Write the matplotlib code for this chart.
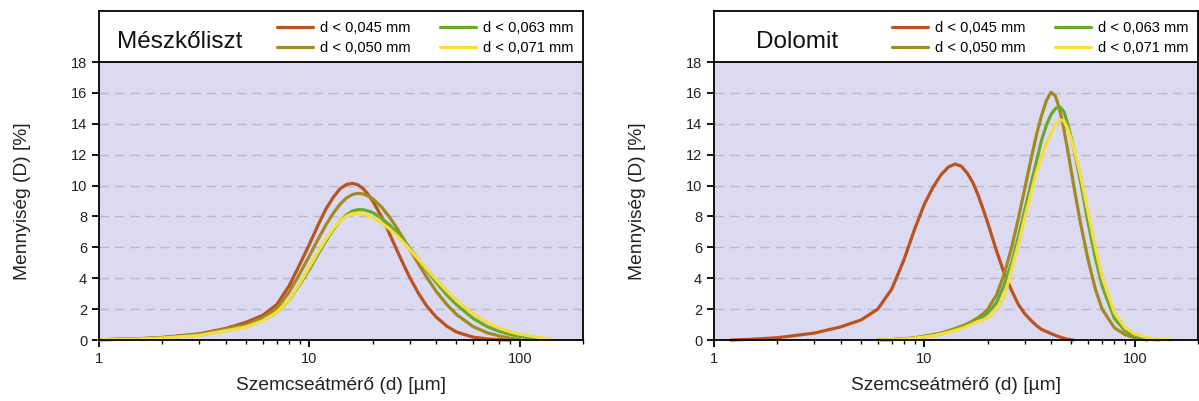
import numpy as np
import matplotlib.pyplot as plt
from matplotlib.ticker import FixedLocator, FixedFormatter, LogLocator, NullFormatter

plt.rcParams['font.family'] = ['Liberation Sans', 'DejaVu Sans']

nan = np.nan

# Mészkőliszt
x_msz = [1, 1.5, 2, 3, 4, 5, 6, 7, 8, 9, 10, 11, 12, 13, 14, 15, 16, 17, 18, 19, 20,
         22, 24, 26, 28, 30, 33, 36, 40, 45, 50, 60, 70, 80, 90, 100, 120, 140]
msz_045 = [0.02, 0.08, 0.17, 0.4, 0.75, 1.15, 1.6, 2.3, 3.5, 4.9, 6.2, 7.45, 8.5, 9.25, 9.8,
           10.07, 10.15, 10.05, 9.8, 9.44, 9.0, 8.0, 6.9, 5.85, 4.9, 4.05, 3.03, 2.23, 1.5,
           0.9, 0.52, 0.19, 0.07, 0.02, 0.0, nan, nan, nan]
msz_050 = [0.02, 0.07, 0.15, 0.37, 0.7, 1.0, 1.45, 2.05, 3.1, 4.3, 5.45, 6.53, 7.47, 8.22, 8.8,
           9.2, 9.42, 9.5, 9.46, 9.33, 9.15, 8.62, 7.97, 7.27, 6.56, 5.87, 4.93, 4.1, 3.17,
           2.3, 1.66, 0.87, 0.47, 0.26, 0.12, 0.03, nan, nan]
msz_063 = [0.02, 0.06, 0.14, 0.32, 0.62, 0.88, 1.3, 1.8, 2.6, 3.6, 4.58, 5.56, 6.43, 7.15, 7.71,
           8.1, 8.35, 8.44, 8.44, 8.36, 8.25, 7.9, 7.46, 6.97, 6.46, 5.94, 5.21, 4.53, 3.74,
           2.92, 2.29, 1.4, 0.87, 0.56, 0.36, 0.24, 0.05, nan]
msz_071 = [0.02, 0.06, 0.13, 0.3, 0.6, 0.85, 1.25, 1.8, 2.62, 3.68, 4.74, 5.71, 6.55, 7.22, 7.71,
           8.02, 8.18, 8.2, 8.15, 8.06, 7.93, 7.6, 7.2, 6.77, 6.32, 5.87, 5.23, 4.63, 3.92,
           3.18, 2.57, 1.7, 1.14, 0.78, 0.54, 0.38, 0.2, 0.05]

# Dolomit
x_dol = [1.2, 1.5, 2, 3, 4, 5, 6, 7, 8, 9, 10, 11, 12, 13, 14, 15, 16, 17, 18, 19, 20,
         22, 24, 26, 28, 30, 32, 34, 36, 38, 40, 42, 44, 46, 48, 51, 55, 60, 65, 70,
         80, 90, 100, 115, 130, 150]
dol_045 = [0.0, 0.05, 0.15, 0.45, 0.85, 1.3, 2.0, 3.3, 5.2, 7.2, 8.8, 9.9, 10.7, 11.2, 11.4,
           11.25, 10.8, 10.2, 9.4, 8.5, 7.6, 5.8, 4.3, 3.2, 2.3, 1.7, 1.3, 0.95, 0.7, 0.55,
           0.42, 0.3, 0.2, 0.12, 0.05, 0.0, nan, nan, nan, nan, nan, nan, nan, nan, nan, nan]
dol_050 = [nan, nan, nan, nan, nan, nan, 0.0, 0.03, 0.08, 0.15, 0.25, 0.35, 0.45, 0.6, 0.75,
           0.9, 1.05, 1.25, 1.45, 1.7, 2.0, 2.9, 4.3, 6.0, 7.9, 9.8, 11.6, 13.2, 14.5, 15.5,
           16.05, 15.8, 14.9, 13.7, 12.3, 10.2, 7.7, 5.2, 3.3, 2.0, 0.8, 0.35, 0.15, 0.0,
           nan, nan]
dol_063 = [nan, nan, nan, nan, nan, nan, 0.0, 0.03, 0.07, 0.13, 0.22, 0.3, 0.4, 0.53, 0.68,
           0.82, 0.95, 1.12, 1.3, 1.52, 1.75, 2.4, 3.6, 5.0, 6.7, 8.4, 10.0, 11.5, 12.9, 13.9,
           14.6, 15.0, 15.1, 14.8, 14.0, 12.6, 10.4, 7.6, 5.3, 3.5, 1.4, 0.6, 0.28, 0.08,
           0.0, nan]
dol_071 = [nan, nan, nan, nan, nan, nan, 0.0, 0.02, 0.06, 0.12, 0.2, 0.28, 0.38, 0.5, 0.62,
           0.75, 0.9, 1.05, 1.2, 1.3, 1.45, 1.95, 2.8, 4.6, 6.2, 7.9, 9.4, 10.8, 11.8, 12.7,
           13.4, 13.95, 14.25, 14.2, 13.7, 12.6, 10.8, 8.3, 6.0, 4.1, 1.8, 0.8, 0.4, 0.15,
           0.04, 0.0]

labels = ['d < 0,045 mm', 'd < 0,050 mm', 'd < 0,063 mm', 'd < 0,071 mm']
colors = ['#b9531f', '#a28a22', '#6aaa2a', '#f7dc42']
yticks = [0, 2, 4, 6, 8, 10, 12, 14, 16, 18]

panels = [
    ('Mészkőliszt', x_msz, [msz_045, msz_050, msz_063, msz_071], 0.0826, 0.037),
    ('Dolomit', x_dol, [dol_045, dol_050, dol_063, dol_071], 0.5955, 0.087),
]

fig = plt.figure(figsize=(11.99, 4.01), dpi=100)

for title, xs, series, left, tx in panels:
    ax = fig.add_axes([left, 0.152, 0.4037, 0.8204])
    ax.set_xscale('log')
    ax.set_xlim(1, 200)
    ax.set_ylim(0, 21.3)
    ax.set_facecolor('white')
    ax.axhspan(0, 18, color='#dcdaf0', zorder=0)
    ax.hlines(yticks[1:-1], 1, 200, colors='#b9b9c8', linestyles=(0, (7, 4)),
              linewidth=1.0, zorder=1)
    ax.axhline(18, color='black', linewidth=1.3, zorder=4)

    for ys, c, lab in zip(series, colors, labels):
        ax.plot(xs, ys, color=c, linewidth=2.3, label=lab, zorder=3,
                solid_joinstyle='round', solid_capstyle='round', clip_on=False)

    for s in ax.spines.values():
        s.set_linewidth(1.3)
        s.set_zorder(5)

    ax.yaxis.set_major_locator(FixedLocator(yticks))
    ax.xaxis.set_major_locator(FixedLocator([1, 10, 100]))
    ax.xaxis.set_major_formatter(FixedFormatter(['1', '10', '100']))
    ax.xaxis.set_minor_locator(LogLocator(base=10, subs=np.arange(2, 10), numticks=20))
    ax.xaxis.set_minor_formatter(NullFormatter())
    ax.tick_params(axis='both', which='major', direction='out', length=5, width=1.3,
                   labelsize=10.5, colors='black', labelcolor='#222222')
    ax.tick_params(axis='x', which='minor', direction='out', length=3, width=1.0)

    ax.set_xlabel('Szemcseátmérő (d) [µm]', fontsize=13.8, color='#222222')
    ax.set_ylabel('Mennyiség (D) [%]', fontsize=13.8, color='#222222')
    ax.xaxis.set_label_coords(0.5, -0.112)
    ax.yaxis.set_label_coords(-0.14, 0.4225)

    ax.text(tx, 0.906, title, transform=ax.transAxes, fontsize=17.5,
            ha='left', va='center', color='#111111')
    ax.legend(loc='upper left', bbox_to_anchor=(0.367, 0.971), ncol=2, frameon=False,
              fontsize=10.5, handlelength=2.47, handletextpad=0.48, columnspacing=2.05,
              labelspacing=0.46, borderpad=0, borderaxespad=0)

fig.savefig('out.png', dpi=100)
